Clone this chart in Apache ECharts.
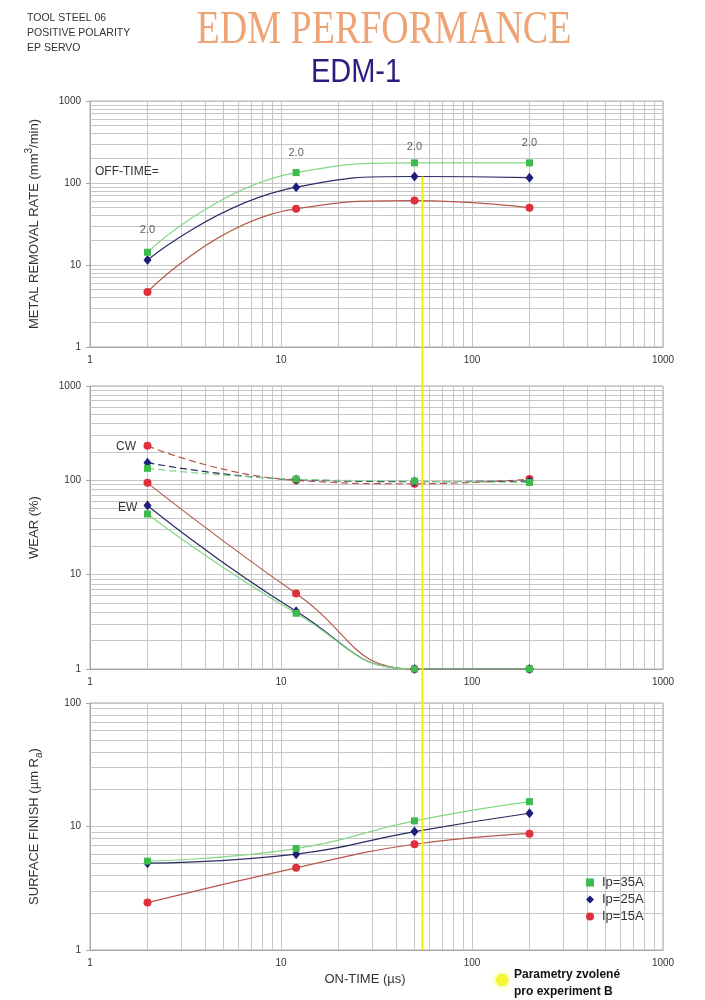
<!DOCTYPE html>
<html><head><meta charset="utf-8">
<script src="https://cdn.jsdelivr.net/npm/echarts@6/dist/echarts.min.js"></script>
<style>html,body{margin:0;padding:0;background:#fff}#c{width:705px;height:1000px}</style>
</head><body><div id="c"></div>
<script>
// ---------- data ----------
const onTime = [2, 12, 50, 200];
const seriesNames = ['Ip=35A', 'Ip=25A', 'Ip=15A'];
// metal removal rate (mm3/min)
const mrr35 = [14.3, 134, 176, 176];
const mrr25 = [11.5, 89, 120, 116];
const mrr15 = [4.7, 48.6, 61, 50];
// wear (%) - CW (dashed) and EW (solid)
const cw35 = [134, 103, 98, 95];
const cw25 = [154, 102, 97, 98];
const cw15 = [232, 100, 92, 103];
const ew35 = [44, 3.9, 1, 1];
const ew25 = [54, 4.1, 1, 1];
const ew15 = [94, 6.3, 1, 1];
// surface finish (um Ra)
const sf35 = [5.24, 6.63, 11.1, 15.9];
const sf25 = [5.05, 5.97, 9.1, 12.8];
const sf15 = [2.42, 4.63, 7.18, 8.75];
// off-time annotations
const offTimeLabels = ['2.0', '2.0', '2.0', '2.0'];
const offTimeLabelY = [27, 234, 275, 309];
// ticks
const minorX = [2,3,4,5,6,7,8,9,20,30,40,50,60,70,80,90,200,300,400,500,600,700,800,900];
const minorY3dec = minorX;
const minorY2dec = [2,3,4,5,6,7,8,9,20,30,40,50,60,70,80,90];
// selected parameters
const selectedOnTime = 55;
const selectedTopValue = 120;

// ---------- styles ----------
const FONT = 'Liberation Sans, Arial, sans-serif';
const GRIDC = '#c6c6c6';
const sty = {
  'Ip=35A': {mark: '#3dbb4c', line: '#84d787', sym: 'rect', size: 7},
  'Ip=25A': {mark: '#1d1d7c', line: '#2b2b64', sym: 'diamond', size: [8, 10]},
  'Ip=15A': {mark: '#e0303c', line: '#b8584c', sym: 'circle', size: 8}
};
const grids = [
  {left: 90, top: 101, width: 573, height: 246},
  {left: 90, top: 386, width: 573, height: 283},
  {left: 90, top: 703, width: 573, height: 247}
];

function mk(name, vals, gi, dashed) {
  const s = sty[name];
  return {
    type: 'line', name: name, xAxisIndex: gi, yAxisIndex: gi,
    data: onTime.map((x, i) => [x, vals[i]]),
    smooth: 0.5, symbol: s.sym, symbolSize: s.size, z: 3,
    itemStyle: {color: s.mark},
    lineStyle: {color: s.line, width: 1.2, type: dashed ? [7, 4] : 'solid'},
    emphasis: {disabled: true}
  };
}
function gridHolder(gi, minY) {
  return {
    type: 'line', name: 'grid' + gi, xAxisIndex: gi, yAxisIndex: gi, z: 1,
    data: [[1, 1]], symbol: 'none', lineStyle: {opacity: 0}, silent: true,
    markLine: {
      silent: true, z: 1, symbol: ['none', 'none'], label: {show: false},
      lineStyle: {color: GRIDC, width: 1, type: 'solid'},
      emphasis: {disabled: true},
      data: minorX.map(v => ({xAxis: v})).concat(minY.map(v => ({yAxis: v})))
    }
  };
}
const fmt = v => String(Math.round(v));

const xAxes = grids.map((g, i) => ({
  type: 'log', logBase: 10, min: 1, max: 1000, gridIndex: i,
  axisLine: {show: true, lineStyle: {color: '#a8a8a8'}},
  axisTick: {show: false},
  axisLabel: {fontSize: 10, color: '#333', margin: 8, fontFamily: FONT, formatter: fmt},
  splitLine: {show: true, lineStyle: {color: GRIDC}},
  name: i === 2 ? 'ON-TIME (µs)' : '', nameLocation: 'middle', nameGap: 23,
  nameTextStyle: {fontSize: 13, color: '#333', fontFamily: FONT, padding: [0, 23, 0, 0]}
}));
const yNames = ['METAL REMOVAL RATE (mm{sup|3}/min)', 'WEAR (%)', 'SURFACE FINISH (µm R{sub|a})'];
const yMax = [1000, 1000, 100];
const yAxes = grids.map((g, i) => ({
  type: 'log', logBase: 10, min: 1, max: yMax[i], gridIndex: i,
  axisLine: {show: true, lineStyle: {color: '#a8a8a8'}},
  axisTick: {show: true, length: 4, lineStyle: {color: '#a8a8a8'}},
  axisLabel: {fontSize: 10, color: '#333', margin: 9, fontFamily: FONT, formatter: fmt},
  splitLine: {show: true, lineStyle: {color: GRIDC}},
  name: yNames[i], nameLocation: 'middle', nameRotate: 90, nameGap: 46,
  nameTextStyle: {
    fontSize: 13, color: '#333', fontFamily: FONT, lineHeight: 20,
    rich: {
      sup: {fontSize: 10, color: '#333', fontFamily: FONT, lineHeight: 10, verticalAlign: 'top'},
      sub: {fontSize: 10, color: '#333', fontFamily: FONT, lineHeight: 10, verticalAlign: 'bottom'}
    }
  }
}));

const series = [
  gridHolder(0, minorY3dec), gridHolder(1, minorY3dec), gridHolder(2, minorY2dec),
  mk('Ip=15A', mrr15, 0), mk('Ip=25A', mrr25, 0), mk('Ip=35A', mrr35, 0),
  mk('Ip=15A', cw15, 1, true), mk('Ip=25A', cw25, 1, true), mk('Ip=35A', cw35, 1, true),
  mk('Ip=15A', ew15, 1), mk('Ip=25A', ew25, 1), mk('Ip=35A', ew35, 1),
  mk('Ip=15A', sf15, 2), mk('Ip=25A', sf25, 2), mk('Ip=35A', sf35, 2),
  {
    type: 'scatter', name: 'offtime', xAxisIndex: 0, yAxisIndex: 0, symbolSize: 0, z: 4, silent: true,
    data: onTime.map((x, i) => ({value: [x, offTimeLabelY[i]], label: {formatter: offTimeLabels[i]}})),
    label: {show: true, position: 'inside', fontSize: 11, color: '#333', fontFamily: FONT}
  }
];

const chart = echarts.init(document.getElementById('c'), null, {renderer: 'canvas'});
chart.setOption({
  animation: false,
  backgroundColor: '#ffffff',
  textStyle: {fontFamily: FONT},
  grid: grids.map(g => Object.assign({show: true, borderColor: '#a8a8a8', borderWidth: 1, backgroundColor: 'transparent'}, g)),
  xAxis: xAxes,
  yAxis: yAxes,
  legend: {
    data: [{name: 'Ip=35A', icon: 'rect'}, {name: 'Ip=25A', icon: 'diamond'}, {name: 'Ip=15A', icon: 'circle'}],
    orient: 'vertical', left: 581, top: 871, itemWidth: 8, itemHeight: 8, itemGap: 4, z: 6,
    selectedMode: false,
    textStyle: {fontSize: 13, color: '#333', fontFamily: FONT, padding: [0, 0, 0, 3]}
  },
  series: series
});

const xPx = chart.convertToPixel({xAxisIndex: 0}, selectedOnTime);
const yTop = chart.convertToPixel({yAxisIndex: 0}, selectedTopValue);
const yBot = chart.convertToPixel({yAxisIndex: 2}, 1);

chart.setOption({
  graphic: [
    {type: 'text', left: 27, top: 11, z: 50, style: {text: 'TOOL STEEL 06\nPOSITIVE POLARITY\nEP SERVO', font: '10.5px ' + FONT, fill: '#333', lineHeight: 15}},
    {type: 'text', x: 384, y: 31, scaleY: 1.2, z: 50, style: {text: 'EDM PERFORMANCE', font: '38px "Liberation Serif", "Times New Roman", serif', fill: '#eea474', align: 'center', verticalAlign: 'middle'}},
    {type: 'text', x: 356, y: 73, scaleY: 1.12, z: 50, style: {text: 'EDM-1', font: '29px ' + FONT, fill: '#2a1f80', align: 'center', verticalAlign: 'middle'}},
    {type: 'text', left: 95, top: 166, z: 50, style: {text: 'OFF-TIME=', font: '12px ' + FONT, fill: '#333'}},
    {type: 'text', left: 116, top: 441, z: 50, style: {text: 'CW', font: '12px ' + FONT, fill: '#333'}},
    {type: 'text', left: 118, top: 502, z: 50, style: {text: 'EW', font: '12px ' + FONT, fill: '#333'}},
    {type: 'line', z: 100, shape: {x1: xPx, y1: yTop, x2: xPx, y2: yBot}, style: {stroke: '#f2ee00', lineWidth: 2}},
    {type: 'circle', z: 50, shape: {cx: 502, cy: 980, r: 6}, style: {fill: '#f8f530', shadowBlur: 6, shadowColor: '#f8f530'}},
    {type: 'text', left: 514, top: 966, z: 50, style: {text: 'Parametry zvolené\npro experiment B', font: 'bold 12px ' + FONT, fill: '#111', lineHeight: 17}}
  ]
});
</script>
</body></html>
